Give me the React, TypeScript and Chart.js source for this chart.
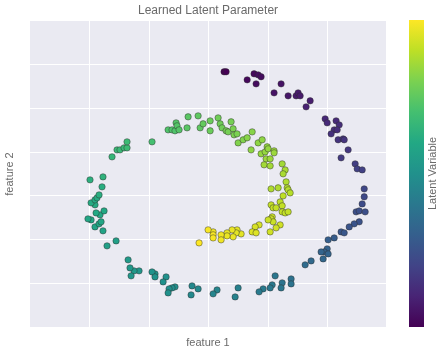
import React, { useEffect, useRef } from "react";
import { Chart, registerables } from "chart.js";

Chart.register(...registerables);

const titleText = "Learned Latent Parameter";
const xLabel = "feature 1";
const yLabel = "feature 2";
const colorbarLabel = "Latent Variable";

const xTicks = [-10, -5, 0, 5, 10];
const yTicks = [-10, -5, 0, 5, 10, 15];

const featureX = [
  1.3, 1.47, 3.24, 3.82, 4.16, 4.41, 3.99, 6.09, 5.5, 6.68, 7.35, 7.52, 7.69, 8.53, 8.19, 9.79, 9.96, 10.71, 10.97, 10.55,
  10.8, 10.29, 10.88, 11.3, 11.39, 11.72, 11.13, 12.31, 12.48, 12.9, 13.07, 13.07, 12.9, 12.39, 12.65, 13.15, 12.65, 12.23, 11.81, 11.13,
  11.39, 10.55, 10.04, 9.96, 9.71, 9.45, 10.04, 9.62, 8.61, 8.11, 6.93, 6.93, 6.18, 6.09, 5.59, 5.34, 5.17, 4.58, 4.24, 2.48,
  2.23, 0.71, 0.38, -0.88, -1.39, -1.47, -2.82, -3.07, -3.32, -3.4, -3.57, -3.82, -4.5, -4.75, -4.5, -5.84, -6.26, -6.51, -6.6, -6.76,
  -7.77, -8.53, -8.87, -9.54, -9.2, -9.03, -9.87, -10.13, -9.12, -9.45, -8.78, -9.54, -9.87, -9.54, -9.37, -9.2, -8.95, -9.96, -8.87, -8.11,
  -7.69, -7.44, -7.1, -6.85, -6.85, -4.75, -3.4, -3.07, -2.82, -2.73, -2.65, -2.48, -1.81, -1.72, -0.88, -0.71, -0.46, 0.13, 0.13, 0.8,
  0.97, 1.13, 1.89, 1.47, 1.64, 2.06, 2.14, 2.39, 2.48, 2.9, 3.24, 3.66, 3.57, 4.16, 4.5, 4.41, 4.75, 4.92, 5.0, 5.5,
  5.5, 4.83, 5.17, 4.66, 5.17, 6.18, 6.43, 6.26, 6.51, 5.25, 5.84, 6.6, 6.68, 6.85, 6.26, 6.01, 6.18, 5.25, 5.42, 5.67,
  6.18, 6.43, 6.68, 5.34, 5.25, 5.42, 5.0, 6.01, 5.67, 5.17, 4.24, 3.91, 3.66, 3.99, 2.73, 2.39, 2.31, 1.97, 2.06, 1.55,
  1.55, 1.05, 1.05, 0.38, 0.38, 0.38, -0.04, -0.8,
];

const featureY = [
  14.19, 14.19, 13.27, 13.96, 13.84, 13.62, 12.81, 12.81, 11.78, 11.44, 11.44, 11.78, 11.44, 10.87, 10.18, 8.81, 8.35, 8.58, 8.12, 7.55,
  7.55, 7.09, 6.41, 6.52, 6.41, 5.26, 4.35, 3.66, 3.09, 2.97, 0.8, -0.11, -0.92, -1.83, -1.72, -1.83, -2.97, -3.2, -3.55, -4.12,
  -4.23, -4.81, -5.03, -6.06, -6.41, -6.41, -6.64, -7.21, -7.44, -7.89, -9.5, -10.07, -9.95, -10.53, -9.15, -10.18, -10.53, -10.64, -10.98, -10.53,
  -11.56, -10.76, -11.21, -10.64, -10.3, -11.33, -10.41, -10.53, -10.64, -11.1, -9.27, -9.84, -8.92, -8.7, -9.27, -8.58, -8.58, -9.15, -8.24, -7.32,
  -5.15, -5.72, -4.0, -3.55, -3.2, -2.97, -2.75, -2.63, -2.17, -1.95, -1.72, -1.03, -0.8, -0.46, -0.23, 0.11, 1.03, 1.83, 2.17, 4.46,
  5.26, 5.26, 5.49, 5.49, 6.18, 6.18, 7.55, 7.55, 7.44, 8.35, 8.01, 7.55, 7.78, 9.04, 9.15, 7.78, 8.24, 8.58, 7.44, 8.92,
  8.24, 7.78, 8.47, 7.44, 7.32, 7.67, 6.98, 7.09, 6.06, 6.41, 6.64, 7.32, 5.26, 6.06, 6.41, 4.81, 5.03, 5.61, 5.38, 5.15,
  4.92, 4.23, 4.23, 3.55, 3.43, 3.66, 2.97, 2.52, 1.6, 0.8, 0.92, 0.92, 0.69, 0.34, 0.0, -0.69, -1.14, -1.03, -1.37, -1.37,
  -1.83, -1.95, -1.83, -2.4, -2.63, -2.97, -2.75, -3.32, -3.66, -4.12, -3.32, -3.55, -4.12, -4.23, -4.35, -3.89, -4.23, -3.89, -4.69, -4.23,
  -4.58, -4.46, -5.03, -4.12, -4.46, -4.81, -3.89, -5.38,
];

const latent = [
  0.0, 0.0, 0.02, 0.02, 0.03, 0.03, 0.03, 0.05, 0.05, 0.06, 0.07, 0.07, 0.07, 0.08, 0.09, 0.11, 0.12, 0.12, 0.13, 0.13,
  0.13, 0.14, 0.15, 0.15, 0.15, 0.16, 0.17, 0.18, 0.19, 0.19, 0.21, 0.22, 0.23, 0.24, 0.24, 0.24, 0.25, 0.26, 0.26, 0.27,
  0.27, 0.29, 0.3, 0.31, 0.31, 0.32, 0.32, 0.33, 0.34, 0.35, 0.37, 0.38, 0.38, 0.39, 0.39, 0.4, 0.4, 0.41, 0.41, 0.43,
  0.44, 0.45, 0.45, 0.47, 0.47, 0.47, 0.49, 0.49, 0.49, 0.5, 0.5, 0.5, 0.51, 0.51, 0.51, 0.52, 0.53, 0.53, 0.53, 0.54,
  0.56, 0.56, 0.58, 0.58, 0.59, 0.59, 0.59, 0.59, 0.6, 0.6, 0.6, 0.61, 0.61, 0.61, 0.61, 0.62, 0.62, 0.63, 0.64, 0.66,
  0.67, 0.67, 0.67, 0.68, 0.68, 0.7, 0.72, 0.72, 0.72, 0.73, 0.73, 0.73, 0.74, 0.74, 0.75, 0.75, 0.76, 0.77, 0.77, 0.78,
  0.78, 0.78, 0.79, 0.79, 0.79, 0.8, 0.8, 0.8, 0.81, 0.81, 0.82, 0.82, 0.83, 0.83, 0.83, 0.84, 0.84, 0.84, 0.84, 0.85,
  0.85, 0.85, 0.85, 0.86, 0.86, 0.86, 0.87, 0.87, 0.88, 0.88, 0.88, 0.89, 0.89, 0.89, 0.9, 0.9, 0.91, 0.91, 0.91, 0.91,
  0.91, 0.91, 0.91, 0.92, 0.92, 0.92, 0.92, 0.93, 0.93, 0.93, 0.94, 0.94, 0.95, 0.95, 0.96, 0.96, 0.96, 0.97, 0.97, 0.97,
  0.97, 0.98, 0.98, 0.98, 0.99, 0.99, 0.99, 1.0,
];

const VIRIDIS = [
  "#440154", "#482475", "#414487", "#355f8d", "#2a788e", "#21918c",
  "#22a884", "#44bf70", "#7ad151", "#bddf26", "#fde725",
];

function hexToRgb(h: string): number[] {
  return [parseInt(h.slice(1, 3), 16), parseInt(h.slice(3, 5), 16), parseInt(h.slice(5, 7), 16)];
}

function viridis(t: number): string {
  const v = Math.max(0, Math.min(1, t)) * (VIRIDIS.length - 1);
  const i = Math.min(Math.floor(v), VIRIDIS.length - 2);
  const f = v - i;
  const a = hexToRgb(VIRIDIS[i]);
  const b = hexToRgb(VIRIDIS[i + 1]);
  const c = a.map((x, k) => Math.round(x + (b[k] - x) * f));
  return `rgb(${c[0]},${c[1]},${c[2]})`;
}

const FONT = "'Liberation Sans', Arial, sans-serif";
const TEXT_COLOR = "#6a6a6a";

const decorPlugin = {
  id: "decor",
  beforeDraw(chart: any) {
    const { ctx, chartArea } = chart;
    ctx.save();
    ctx.fillStyle = "#eaeaf2";
    ctx.fillRect(chartArea.left, chartArea.top, chartArea.right - chartArea.left, chartArea.bottom - chartArea.top);
    ctx.restore();
  },
  afterDraw(chart: any) {
    const { ctx, chartArea } = chart;
    const cx = (chartArea.left + chartArea.right) / 2;
    const cy = (chartArea.top + chartArea.bottom) / 2;
    ctx.save();
    ctx.fillStyle = TEXT_COLOR;
    ctx.textAlign = "center";
    ctx.textBaseline = "middle";
    ctx.font = `12px ${FONT}`;
    ctx.fillText(titleText, cx, chartArea.top - 10);
    ctx.font = `11px ${FONT}`;
    ctx.fillText(xLabel, cx, chartArea.bottom + 16);
    ctx.save();
    ctx.translate(chartArea.left - 20, cy);
    ctx.rotate(-Math.PI / 2);
    ctx.fillText(yLabel, 0, 0);
    ctx.restore();

    // colorbar
    const cbLeft = chartArea.right + 23;
    const cbW = 15;
    const cbTop = chartArea.top - 1;
    const cbBottom = chartArea.bottom;
    const grad = ctx.createLinearGradient(0, cbBottom, 0, cbTop);
    VIRIDIS.forEach((c, i) => grad.addColorStop(i / (VIRIDIS.length - 1), c));
    ctx.fillStyle = grad;
    ctx.fillRect(cbLeft, cbTop, cbW, cbBottom - cbTop);

    ctx.fillStyle = TEXT_COLOR;
    ctx.save();
    ctx.translate(cbLeft + cbW + 9, (cbTop + cbBottom) / 2);
    ctx.rotate(-Math.PI / 2);
    ctx.fillText(colorbarLabel, 0, 0);
    ctx.restore();
    ctx.restore();
  },
};

export default function App() {
  const ref = useRef<HTMLCanvasElement | null>(null);

  useEffect(() => {
    if (!ref.current) return;
    const points = featureX.map((x, i) => ({ x, y: featureY[i] }));
    const colors = latent.map((t) => viridis(t));
    const chart = new Chart(ref.current, {
      type: "scatter",
      data: {
        datasets: [
          {
            data: points,
            pointBackgroundColor: colors,
            pointBorderColor: "rgba(45,45,45,0.75)",
            pointBorderWidth: 0.6,
            pointRadius: 3.2,
          },
        ],
      },
      options: {
        animation: false,
        responsive: false,
        devicePixelRatio: 1,
        layout: { padding: { left: 30, top: 21, right: 60, bottom: 29 } },
        plugins: { legend: { display: false }, tooltip: { enabled: false }, title: { display: false } },
        scales: {
          x: {
            type: "linear",
            min: -15,
            max: 14.9,
            ticks: { display: false },
            grid: { color: "#ffffff", lineWidth: 1, drawTicks: false },
            border: { display: false },
            afterBuildTicks: (s: any) => {
              s.ticks = xTicks.map((v) => ({ value: v }));
            },
            afterFit: (s: any) => {
              s.height = 0;
            },
          },
          y: {
            type: "linear",
            min: -15,
            max: 20,
            ticks: { display: false },
            grid: { color: "#ffffff", lineWidth: 1, drawTicks: false },
            border: { display: false },
            afterBuildTicks: (s: any) => {
              s.ticks = yTicks.map((v) => ({ value: v }));
            },
            afterFit: (s: any) => {
              s.width = 0;
            },
          },
        },
      },
      plugins: [decorPlugin],
    } as any);
    return () => chart.destroy();
  }, []);

  return (
    <div style={{ position: "absolute", left: 0, top: 0, width: 446, height: 356, background: "#fff" }}>
      <canvas ref={ref} width={446} height={356} style={{ width: 446, height: 356, display: "block" }} />
    </div>
  );
}
